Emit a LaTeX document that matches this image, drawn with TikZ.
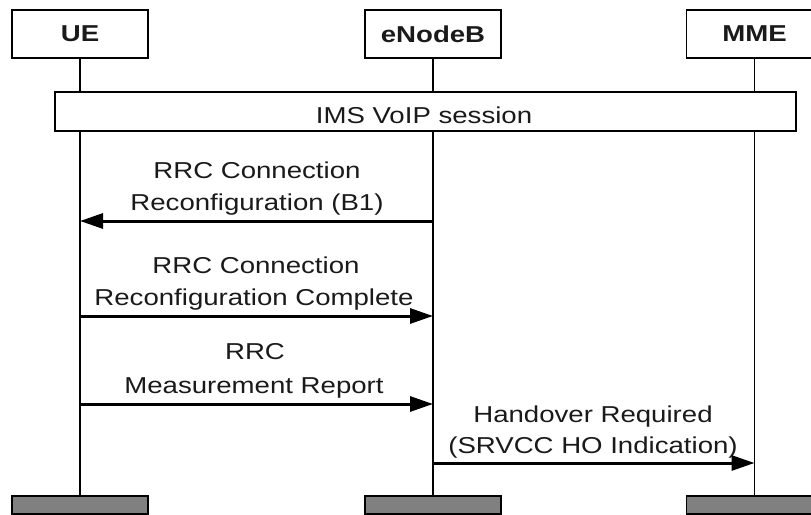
\documentclass[tikz,border=0pt]{standalone}
\usepackage{fontspec}
\setmainfont[FakeStretch=1.2]{Liberation Sans}
\usetikzlibrary{arrows.meta}
\definecolor{bargray}{HTML}{808080}
\definecolor{txt}{HTML}{1A1A1A}
\tikzset{
  hdr/.style={draw=black, line width=1.8pt, fill=white, minimum width=136pt, minimum height=48pt, inner sep=0pt, font=\fontsize{23}{32}\selectfont\bfseries, text=txt},
  endbar/.style={draw=black, line width=1.8pt, fill=bargray, minimum width=136pt, minimum height=18pt, inner sep=0pt},
  lifeline/.style={draw=black, line width=1.9pt},
  sessbox/.style={draw=black, line width=1.8pt, fill=white, inner sep=0pt, text=txt},
  msg/.style={draw=black, line width=3pt, -{Triangle[length=23pt,width=15pt]}},
  lbl/.style={anchor=base, inner sep=0pt, text=txt},
}
\begin{document}
\begin{tikzpicture}[x=1pt, y=-1pt, font=\fontsize{23}{32}\selectfont]
\clip (0,0) rectangle (811,514);
\fill[white] (0,0) rectangle (811,514);
% header boxes
\node[hdr] (ue)  at (80,34) {UE};
\node[hdr] (enb) at (433,34) {eNodeB};
\node[hdr] (mme) at (754.5,34) {MME};
% bottom bars
\node[endbar] (ueb)  at (80,505) {};
\node[endbar] (enbb) at (433,505) {};
\node[endbar] (mmeb) at (754.5,505) {};
% lifelines
\draw[lifeline] (ue.south) -- (ueb.north);
\draw[lifeline] (enb.south) -- (enbb.north);
\draw[lifeline] (mme.south) -- (mmeb.north);
% session box
\node[sessbox, minimum width=741pt, minimum height=39pt] (ims) at (425.5,111.5) {};
\node[lbl] (imst) at (424,123) {IMS VoIP session};
% message 1
\node[lbl] (m1a) at (257,178) {RRC Connection};
\node[lbl] (m1b) at (257,210) {Reconfiguration (B1)};
\draw[msg] (enb |- 0,221) -- (ue |- 0,221);
% message 2
\node[lbl] (m2a) at (256,273) {RRC Connection};
\node[lbl] (m2b) at (254,305) {Reconfiguration Complete};
\draw[msg] (ue |- 0,316) -- (enb |- 0,316);
% message 3
\node[lbl] (m3a) at (255,359) {RRC};
\node[lbl] (m3b) at (254,393) {Measurement Report};
\draw[msg] (ue |- 0,404) -- (enb |- 0,404);
% message 4
\node[lbl] (m4a) at (593,422) {Handover Required};
\node[lbl] (m4b) at (593,453) {(SRVCC HO Indication)};
\draw[msg] (enb |- 0,463) -- (mme |- 0,463);
\end{tikzpicture}
\end{document}
